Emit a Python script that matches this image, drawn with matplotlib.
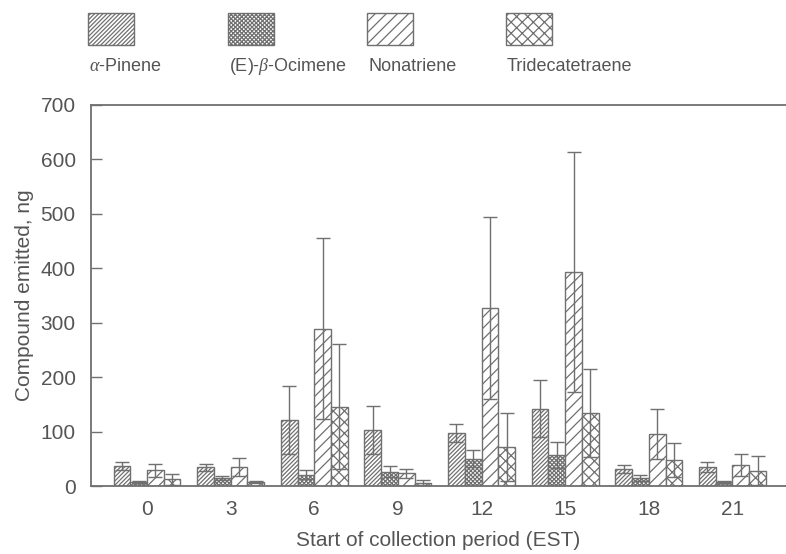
import matplotlib
matplotlib.use("Agg")
import matplotlib.pyplot as plt
import numpy as np
from matplotlib.patches import Rectangle

plt.rcParams['font.family'] = ['Liberation Sans', 'DejaVu Sans']
plt.rcParams['mathtext.fontset'] = 'custom'
plt.rcParams['mathtext.it'] = 'Liberation Serif:italic'
plt.rcParams['mathtext.rm'] = 'Liberation Sans'
plt.rcParams['hatch.linewidth'] = 0.9

hours = ['0', '3', '6', '9', '12', '15', '18', '21']
series = ['$\\mathit{\\alpha}$-Pinene', '(E)-$\\mathit{\\beta}$-Ocimene', 'Nonatriene', 'Tridecatetraene']
pinene = [37, 34, 121, 103, 97, 142, 31, 35]
pinene_err = [8, 7, 62, 44, 16, 52, 7, 10]
ocimene = [8, 15, 21, 26, 50, 57, 15, 8]
ocimene_err = [2, 4, 8, 10, 16, 24, 6, 2]
nonatriene = [29, 35, 289, 23, 327, 393, 96, 39]
nonatriene_err = [12, 16, 166, 8, 167, 220, 46, 20]
trideca = [12, 7, 146, 6, 72, 134, 48, 28]
trideca_err = [10, 2, 114, 5, 63, 81, 31, 27]

values = [pinene, ocimene, nonatriene, trideca]
errors = [pinene_err, ocimene_err, nonatriene_err, trideca_err]
hatches = ['////////', 'xxxxxxxx', '///', 'xxx']

gray = '#707070'
tcol = '#555555'

fig = plt.figure(figsize=(7.86, 5.54), dpi=100)
ax = fig.add_axes([91/786, 1-486/554, 1-91/786, (486-105)/554])

x = np.arange(len(hours))
w = 0.2
for i, (v, e, h) in enumerate(zip(values, errors, hatches)):
    pos = x + (i - 1.5) * w
    ax.bar(pos, v, width=w, facecolor='white', edgecolor=gray, hatch=h, linewidth=1.0, zorder=2)
    ax.errorbar(pos, v, yerr=e, fmt='none', ecolor=gray, elinewidth=1.0, capsize=5, capthick=1.0, zorder=3)

ax.set_xlim(-0.67, 7.64)
ax.set_ylim(0, 700)
ax.set_yticks(range(0, 701, 100))
ax.set_xticks(x)
ax.set_xticklabels(hours)
ax.spines['right'].set_visible(False)
for s in ['left', 'top', 'bottom']:
    ax.spines[s].set_color(gray)
    ax.spines[s].set_linewidth(1.3)
ax.tick_params(axis='y', direction='in', length=8, width=1, color=gray, pad=11, labelsize=15, labelcolor=tcol)
ax.tick_params(axis='x', length=0, pad=10, labelsize=15, labelcolor=tcol)
ax.set_ylabel('Compound emitted, ng', fontsize=15, color=tcol, labelpad=5)
ax.set_xlabel('Start of collection period (EST)', fontsize=15, color=tcol, labelpad=9)

# legend
lx = [88, 228, 367, 506]
for xi, lab, h in zip(lx, series, hatches):
    r = Rectangle((xi/786, 1-45/554), 46/786, 32/554, transform=fig.transFigure,
                  facecolor='white', edgecolor=gray, hatch=h, linewidth=1.0)
    fig.patches.append(r)
    fig.text((xi+1)/786, 1-67/554, lab, fontsize=13, color=tcol, va='center', ha='left')

fig.savefig('out.png', dpi=100)
